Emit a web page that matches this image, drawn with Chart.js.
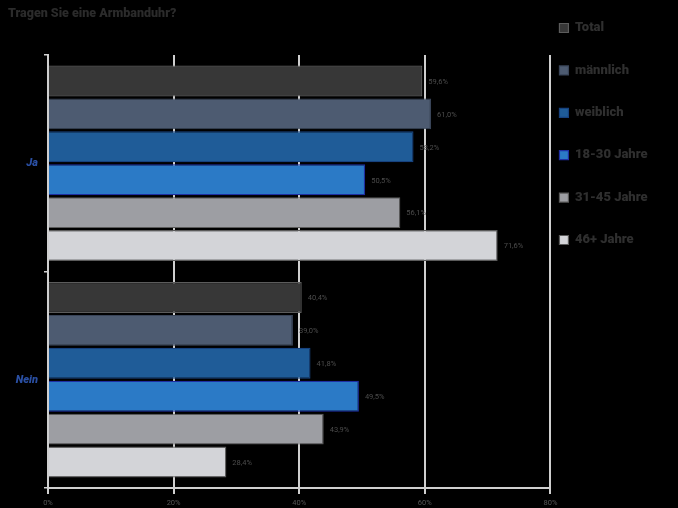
<!DOCTYPE html>
<html>
<head>
<meta charset="utf-8">
<script src="https://cdn.jsdelivr.net/npm/chart.js@4.4.0/dist/chart.umd.min.js"></script>
<style>
  html, body { margin: 0; padding: 0; background: #000; }
  #wrap { width: 678px; height: 508px; }
</style>
</head>
<body>
<div id="wrap"><canvas id="c" width="678" height="508"></canvas></div>
<script>
// ---- data ----
const categories = ['Ja', 'Nein'];
const seriesNames = ['Total', 'männlich', 'weiblich', '18-30 Jahre', '31-45 Jahre', '46+ Jahre'];
const total = [59.6, 40.4];
const maennlich = [61.0, 39.0];
const weiblich = [58.2, 41.8];
const age18to30 = [50.5, 49.5];
const age31to45 = [56.1, 43.9];
const age46plus = [71.6, 28.4];
const xTickValues = [0, 20, 40, 60, 80];
const chartTitle = 'Tragen Sie eine Armbanduhr?';

// ---- styles ----
const fills = ['#373737', '#4d5b71', '#1f5c98', '#2b7ac6', '#9d9ea3', '#d3d4d8'];
const borders = ['#5c5c5c', '#394458', '#17427f', '#1f2fa3', '#5a5a5a', '#5a5a5a'];
const seriesValues = [total, maennlich, weiblich, age18to30, age31to45, age46plus];

const datasets = seriesNames.map((name, i) => ({
  label: name,
  data: seriesValues[i],
  backgroundColor: fills[i],
  borderColor: borders[i],
  borderWidth: 1.2,
  categoryPercentage: 0.912,
  barPercentage: 0.94
}));

const fmt = v => v.toFixed(1).replace('.', ',') + '%';

const valueLabels = {
  id: 'valueLabels',
  afterDatasetsDraw(chart) {
    const ctx = chart.ctx;
    ctx.save();
    ctx.font = '7.5px Roboto, sans-serif';
    ctx.fillStyle = '#4c4c4c';
    ctx.textBaseline = 'middle';
    ctx.textAlign = 'left';
    chart.data.datasets.forEach((ds, di) => {
      const meta = chart.getDatasetMeta(di);
      meta.data.forEach((bar, j) => {
        ctx.fillText(fmt(ds.data[j]), bar.x + 6, bar.y + 1);
      });
    });
    ctx.restore();
  }
};

const legendPlace = {
  id: 'legendPlace',
  afterLayout(chart) {
    const lg = chart.legend;
    const pad = lg.options.labels.padding;
    const w = lg.width, h = lg.height;
    lg.left = chart.chartArea.right + 9 - pad;
    lg.right = lg.left + w;
    lg.top = 28 - 6.5 - pad;
    lg.bottom = lg.top + h;
  }
};

new Chart(document.getElementById('c'), {
  type: 'bar',
  data: { labels: categories, datasets },
  plugins: [valueLabels, legendPlace],
  options: {
    indexAxis: 'y',
    responsive: false,
    animation: false,
    devicePixelRatio: 1,
    layout: { padding: { left: 8, right: 0, top: 0, bottom: 0 } },
    plugins: {
      title: {
        display: true,
        text: chartTitle,
        align: 'start',
        color: '#2b2b2b',
        font: { family: 'Roboto', size: 12.5, weight: '900' },
        padding: { top: 6, bottom: 34 }
      },
      legend: {
        position: 'right',
        align: 'start',
        labels: {
          color: '#2f2f2f',
          font: { family: 'Roboto', size: 13, weight: '900' },
          boxWidth: 9,
          boxHeight: 9,
          padding: 29.4
        }
      },
      tooltip: { enabled: false }
    },
    scales: {
      x: {
        min: 0,
        max: 80,
        afterBuildTicks(s) { s.ticks = xTickValues.map(v => ({ value: v })); },
        afterFit(s) { s.height = 20; },
        ticks: {
          callback: v => v + '%',
          color: '#555',
          font: { family: 'Roboto', size: 7.5 },
          padding: 5,
          maxRotation: 0
        },
        grid: { color: '#cfcfcf', lineWidth: 2, tickLength: 6, tickColor: '#cfcfcf' },
        border: { color: '#cfcfcf', width: 2 }
      },
      y: {
        afterFit(s) { s.width = 40; },
        ticks: {
          color: '#2a4fa3',
          font: { family: 'Roboto', size: 11, weight: '900', style: 'italic' },
          padding: 6
        },
        grid: { drawOnChartArea: false, drawTicks: true, tickLength: 4, color: '#cfcfcf', lineWidth: 1.5 },
        border: { color: '#cfcfcf', width: 2 }
      }
    }
  }
});
</script>
</body>
</html>
